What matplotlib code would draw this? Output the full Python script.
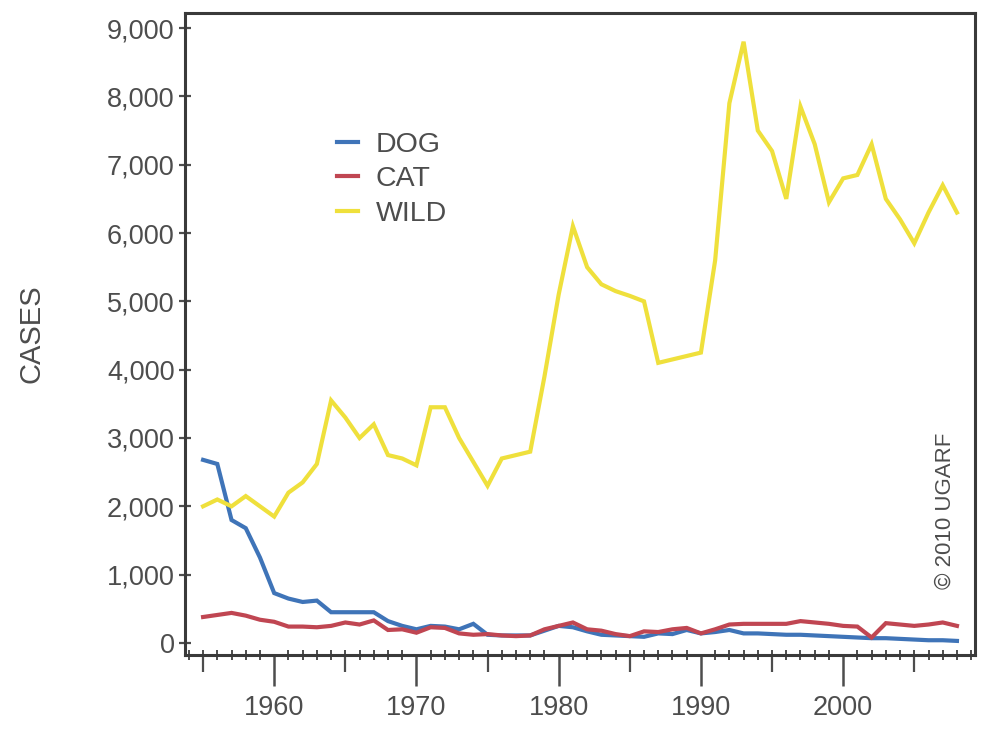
import numpy as np
import matplotlib
matplotlib.use("Agg")
import matplotlib.pyplot as plt
from matplotlib.ticker import FuncFormatter, MultipleLocator

# årstall 1955-2008
years = list(range(1955, 2009))

wild = [2000, 2100, 2000, 2150, 2000, 1850, 2200, 2350, 2620, 3550,
        3300, 3000, 3200, 2750, 2700, 2600, 3450, 3450, 3000, 2650,
        2300, 2700, 2750, 2800, 3900, 5100, 6100, 5500, 5250, 5150,
        5080, 5000, 4100, 4150, 4200, 4250, 5600, 7900, 8800, 7500,
        7200, 6500, 7850, 7300, 6450, 6800, 6850, 7300, 6500, 6200,
        5850, 6300, 6700, 6300]

dog = [2680, 2620, 1800, 1680, 1250, 730, 650, 600, 620, 450,
       450, 450, 450, 320, 250, 200, 250, 240, 200, 280,
       120, 110, 110, 110, 180, 250, 230, 170, 120, 110,
       100, 90, 140, 130, 190, 140, 160, 190, 140, 140,
       130, 120, 120, 110, 100, 90, 80, 70, 70, 60,
       50, 40, 40, 30]

cat = [380, 410, 440, 400, 340, 310, 240, 240, 230, 250,
       300, 270, 330, 190, 200, 150, 230, 220, 140, 120,
       130, 110, 100, 110, 200, 250, 300, 200, 180, 130,
       100, 170, 160, 200, 220, 140, 200, 270, 280, 280,
       280, 280, 320, 300, 280, 250, 240, 80, 290, 270,
       250, 270, 300, 250]

labels = ["DOG", "CAT", "WILD"]
farger = ["#3f74b8", "#c04652", "#efe03c"]
grå = "#4d4d4d"

plt.rcParams['font.family'] = ['Liberation Sans', 'DejaVu Sans']

fig = plt.figure(figsize=(9.81, 7.32), dpi=100)
ax = fig.add_axes([0.1886, 0.1052, 0.8053, 0.877])

for serie, navn, farge in zip([dog, cat, wild], labels, farger):
    ax.plot(years, serie, color=farge, linewidth=3.0, label=navn,
            solid_joinstyle="miter")

ax.set_xlim(1953.73, 2009.27)
ax.set_ylim(-176, 9220)

# y-akse
ax.yaxis.set_major_locator(MultipleLocator(1000))
ax.yaxis.set_major_formatter(FuncFormatter(lambda v, p: f"{int(v):,}"))
ax.tick_params(axis="y", direction="inout", length=9, width=1.6,
               colors=grå, labelsize=19.5, pad=3)

# x-akse: tiår lange, år små
ax.xaxis.set_major_locator(MultipleLocator(10))
ax.xaxis.set_minor_locator(MultipleLocator(1))
ax.tick_params(axis="x", which="major", direction="out", length=22,
               width=1.8, colors=grå, labelsize=19.5, pad=7)
ax.tick_params(axis="x", which="minor", direction="inout", length=7,
               width=1.4, colors=grå)

# femårsstreker
sec = ax.secondary_xaxis("bottom")
sec.set_xticks(np.arange(1955, 2010, 10))
sec.set_xticklabels([])
sec.tick_params(direction="out", length=12, width=1.6, colors=grå)
sec.spines["bottom"].set_visible(False)

for s in ax.spines.values():
    s.set_linewidth(2.2)
    s.set_color("#3a3a3a")

ax.set_ylabel("CASES", fontsize=21, color=grå, labelpad=44)

leg = ax.legend(loc="upper left", bbox_to_anchor=(0.16, 0.855),
                frameon=False, fontsize=20.5, handlelength=0.75,
                handletextpad=0.6, labelspacing=0.3)
for t in leg.get_texts():
    t.set_color(grå)

ax.text(0.962, 0.225, "© 2010 UGARF", transform=ax.transAxes, rotation=90,
        ha="center", va="center", fontsize=16, color=grå)

fig.savefig("out.png", dpi=100)
